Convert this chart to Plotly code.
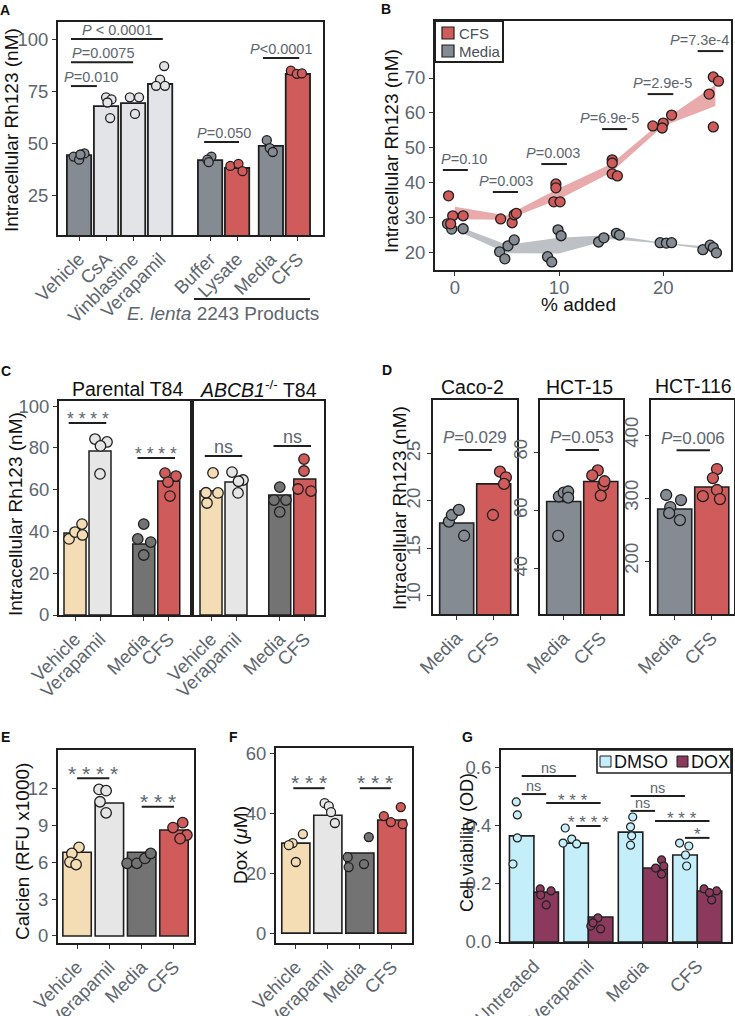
import plotly.graph_objects as go

W, H = 735, 1016
FONT = "Liberation Sans, Arial, Helvetica, sans-serif"
TXT = "#5d666d"
BLK = "#111111"
EDGE = "#1f1f1f"

RED = "#cf5b5b"
GRAYA = "#848b93"
LIGHTA = "#e3e4e7"
TAN = "#f4ddb4"
LGRAY = "#e6e6e6"
DGRAY = "#737373"
DMSO_C = "#c3eefa"
DOX_C = "#8b3a5d"
RIB_RED = "#e8aaaa"
RIB_GRAY = "#bdc1c5"

# ======================= DATA =======================
# ---- A ----
A_cats = ["Vehicle", "CsA", "Vinblastine", "Verapamil", "Buffer", "Lysate", "Media", "CFS"]
A_mean = [44.2, 67.8, 69.2, 78.4, 41.8, 38.0, 48.6, 83.2]
A_pts = [[43.5, 42.0, 45.0, 44.5], [72.0, 71.0, 69.5, 62.0], [72.0, 72.0, 64.0],
         [87.0, 80.5, 77.5, 77.5], [43.5, 42.0, 40.8], [39.0, 40.0, 36.5],
         [51.4, 47.6, 45.7], [84.8, 83.3, 83.5]]
A_jit = [[-0.2, 0.0, 0.2, 0.05], [0.0, 0.2, 0.05, 0.15], [-0.12, 0.22, 0.07],
         [0.15, 0.0, -0.15, 0.18], [0.05, -0.1, -0.05], [-0.25, 0.05, 0.2],
         [-0.15, -0.04, 0.07], [-0.26, -0.04, 0.15]]
A_sig_x0 = [0.70, 0.70, 0.70, 5.63, 7.81]
A_sig_x1 = [1.66, 3.00, 4.10, 6.92, 9.15]
A_sig_y = [77.4, 88.9, 100.0, 50.5, 90.9]
A_sig_tx = [1.44, 1.92, 2.44, 6.37, 8.48]
A_sig_lab = ["<i>P</i>=0.010", "<i>P</i>=0.0075", "<i>P</i> &lt; 0.0001", "<i>P</i>=0.050", "<i>P</i>&lt;0.0001"]

# ---- B ----
B_cfs_x = [-0.6, -0.2, -0.4, 0.8, 4.4, 5.5, 5.7, 5.9, 9.7, 9.7, 9.5, 10.1,
           15.1, 15.1, 15.1, 15.6, 19.0, 20.0, 19.9, 20.8, 24.8, 25.3, 24.4, 24.8]
B_cfs_y = [36.3, 30.6, 28.3, 30.6, 29.7, 28.6, 30.9, 31.3, 39.7, 38.6, 34.6, 34.6,
           46.6, 45.7, 42.6, 42.0, 56.3, 57.1, 55.7, 59.4, 70.3, 69.1, 65.4, 56.0]
B_med_x = [-0.7, -0.3, 0.8, 4.3, 4.8, 5.1, 5.7, 8.9, 9.3, 9.9, 10.2,
           13.8, 14.3, 15.5, 15.8, 19.7, 20.3, 20.8, 23.8, 24.5, 24.8, 25.1]
B_med_y = [28.3, 26.8, 26.9, 20.3, 18.3, 22.0, 23.7, 18.9, 17.4, 26.6, 24.9,
           23.1, 24.3, 25.6, 25.1, 22.9, 22.8, 22.9, 20.9, 22.2, 21.5, 20.0]
B_conc = [0, 5, 10, 15, 20, 25]
B_cfs_lo = [29.6, 29.5, 35.3, 43.0, 56.3, 62.0]
B_cfs_hi = [33.2, 30.7, 38.5, 45.4, 57.9, 68.0]
B_med_lo = [26.6, 19.9, 19.8, 23.9, 22.7, 20.7]
B_med_hi = [28.0, 22.3, 24.3, 25.1, 22.9, 21.6]
B_sig_x0 = [-1.15, 3.65, 8.30, 14.13, 18.50, 23.30]
B_sig_x1 = [1.25, 6.06, 10.75, 16.54, 20.96, 25.77]
B_sig_y = [43.7, 37.4, 45.4, 55.4, 65.4, 77.7]
B_sig_tx = [0.87, 4.90, 9.42, 14.80, 19.90, 23.46]
B_sig_lab = ["<i>P</i>=0.10", "<i>P</i>=0.003", "<i>P</i>=0.003", "<i>P</i>=6.9e-5",
             "<i>P</i>=2.9e-5", "<i>P</i>=7.3e-4"]

# ---- C ----
C_cats = ["Vehicle", "Verapamil", "Media", "CFS"]
C_par_mean = [39.2, 78.5, 34.0, 64.1]
C_par_pts = [[36.4, 39.7, 38.3, 43.5], [84.2, 82.8, 80.9, 67.5],
             [43.5, 36.4, 34.9, 28.7], [67.9, 66.5, 63.6, 56.9]]
C_par_jit = [[-0.24, 0.0, 0.3, 0.28], [-0.2, 0.28, 0.02, 0.0],
             [0.0, -0.24, 0.28, 0.0], [-0.15, 0.29, -0.03, 0.05]]
C_ko_mean = [59.3, 63.6, 57.4, 65.1]
C_ko_pts = [[68.0, 58.4, 53.6, 58.5], [68.4, 64.6, 64.0, 58.4],
            [61.2, 55.0, 55.0, 49.3], [74.6, 68.9, 60.3, 59.3]]
C_ko_jit = [[0.08, 0.28, -0.16, -0.2], [-0.16, 0.28, 0.1, 0.08],
            [0.0, -0.23, 0.25, 0.0], [-0.03, -0.03, -0.27, 0.25]]
C_par_sig = [(0.75, 2.25, 91.9, "****"), (3.5, 5.0, 75.1, "****")]
C_ko_sig = [(0.75, 2.25, 76.1, "ns"), (3.5, 5.0, 80.9, "ns")]

# ---- D ----
D_cats = ["Media", "CFS"]
D_caco_mean = [17.66, 21.8]
D_caco_pts = [[17.8, 18.5, 19.05, 16.3], [23.1, 22.5, 21.8, 18.5]]
D_caco_jit = [[-0.21, -0.13, 0.06, 0.2], [0.17, 0.33, 0.28, -0.02]]
D_h15_mean = [63.1, 69.9]
D_h15_pts = [[64.8, 66.1, 66.5, 64.4, 51.3], [73.7, 72.0, 68.6, 65.1, 70.0]]
D_h15_jit = [[-0.13, 0.0, 0.12, 0.12, -0.15], [-0.08, -0.23, 0.07, 0.0, 0.1]]
D_h116_mean = [282.5, 317.5]
D_h116_pts = [[304.8, 285.7, 296.8, 276.0, 265.0], [346.0, 331.7, 312.7, 303.0, 298.4]]
D_h116_jit = [[-0.23, -0.12, 0.17, -0.15, 0.14], [0.14, 0.03, 0.14, -0.24, 0.22]]
D_sig_y = [25.4, 80.7, 376.0]
D_sig_lab = ["<i>P</i>=0.029", "<i>P</i>=0.053", "<i>P</i>=0.006"]

# ---- E ----
E_cats = ["Vehicle", "Verapamil", "Media", "CFS"]
E_mean = [6.8, 10.8, 6.8, 8.6]
E_pts = [[7.2, 6.7, 6.0, 5.8], [11.9, 11.8, 10.9, 10.0], [5.9, 5.9, 6.3, 6.7], [9.2, 8.8, 8.2, 7.9]]
E_jit = [[0.06, -0.16, -0.22, -0.03], [-0.32, -0.1, -0.29, -0.1],
         [-0.45, -0.15, 0.1, 0.28], [0.27, -0.03, 0.4, 0.19]]
E_sig = [(1.0, 2.0, 12.8, "****"), (3.0, 4.0, 10.5, "***")]

# ---- F ----
F_cats = ["Vehicle", "Verapamil", "Media", "CFS"]
F_mean = [30.0, 39.3, 26.7, 37.7]
F_pts = [[33.0, 30.0, 29.3, 23.7], [43.3, 42.3, 40.3, 36.7], [32.0, 25.3, 22.0, 23.0], [42.0, 39.0, 37.0, 36.3]]
F_jit = [[0.22, -0.1, -0.22, 0.0], [-0.1, 0.03, 0.1, 0.22],
         [0.28, -0.38, -0.35, 0.13], [0.28, -0.25, -0.03, 0.34]]
F_sig = [(0.92, 1.9, 48.3, "***"), (3.0, 3.97, 48.3, "***")]

# ---- G ----
G_cats = ["Untreated", "Verapamil", "Media", "CFS"]
G_dmso_mean = [0.366, 0.341, 0.379, 0.300]
G_dox_mean = [0.172, 0.086, 0.255, 0.176]
G_dmso_pts = [[0.483, 0.438, 0.359, 0.269], [0.393, 0.341, 0.355, 0.338],
              [0.431, 0.397, 0.366, 0.334], [0.341, 0.331, 0.300, 0.262]]
G_dmso_jit = [[-0.1, -0.08, -0.08, -0.16], [-0.2, -0.24, -0.08, 0.01],
              [0.04, 0.0, 0.02, 0.0], [-0.1, 0.07, 0.01, 0.03]]
G_dox_pts = [[0.183, 0.176, 0.162, 0.128], [0.083, 0.055, 0.045, 0.066],
             [0.283, 0.255, 0.262, 0.234], [0.183, 0.176, 0.145, 0.170]]
G_dox_jit = [[-0.11, 0.09, -0.1, 0.0], [-0.05, -0.18, 0.0, -0.14],
             [0.12, 0.01, 0.16, 0.12], [-0.1, 0.13, 0.04, 0.0]]
G_sig = [(0.775, 1.775, 0.572, "ns"), (0.775, 1.225, 0.510, "ns"),
         (1.225, 2.225, 0.479, "***"), (1.775, 2.225, 0.400, "****"),
         (2.775, 3.775, 0.503, "ns"), (2.775, 3.225, 0.452, "ns"),
         (3.225, 4.225, 0.417, "***"), (3.775, 4.225, 0.359, "*")]

# ======================= LAYOUT (pixel boxes) =======================
A_pos = [1, 2, 3, 4, 5.85, 6.85, 8.1, 9.1]
C_pos = [1, 2, 3.75, 4.75]
D_pos = [1, 2]
EF_pos = [1, 2, 3, 4]
G_pos = [1, 2, 3, 4]
G_off = 0.225

fig = go.Figure()
layout = dict(width=W, height=H, margin=dict(l=0, r=0, t=0, b=0), template="none",
              paper_bgcolor="white", plot_bgcolor="white", showlegend=False,
              font=dict(family=FONT, size=18, color=TXT))
shapes = []
anns = []
TICKFS = 18.5


def sfx(i):
    return "" if i == 1 else str(i)


def axes(i, box, xr, yr, xtv, xtt, ytv, ytt, xangle=-45, yangle=0, yticks=True, xstand=0):
    x0, x1, y0, y1 = box
    common = dict(showline=True, linewidth=2, linecolor=EDGE, mirror=True, showgrid=False,
                  zeroline=False, ticklen=4, tickwidth=1.2, tickcolor="#333",
                  automargin=False, tickfont=dict(size=TICKFS, color=TXT, family=FONT),
                  tickmode="array", fixedrange=True)
    layout["xaxis" + sfx(i)] = dict(domain=[x0 / W, x1 / W], range=xr, anchor="y" + sfx(i),
                                    tickvals=xtv, ticktext=xtt, tickangle=xangle,
                                    ticks="outside", ticklabelstandoff=xstand, **common)
    ya = dict(domain=[1 - y1 / H, 1 - y0 / H], range=yr, anchor="x" + sfx(i),
              tickangle=yangle, ticks="outside" if yticks else "", showticklabels=yticks, **common)
    if yticks:
        ya["tickvals"] = ytv
        ya["ticktext"] = ytt
    layout["yaxis" + sfx(i)] = ya


def bars_points(i, pos, means, pts, jit, colors, width=0.9, msize=9, blw=1.6):
    fig.add_trace(go.Bar(x=pos, y=means, width=width, xaxis="x" + sfx(i), yaxis="y" + sfx(i),
                         marker=dict(color=colors, line=dict(color=EDGE, width=blw))))
    for p, vals, js, c in zip(pos, pts, jit, colors):
        fig.add_trace(go.Scatter(x=[p + j for j in js], y=vals, mode="markers",
                                 xaxis="x" + sfx(i), yaxis="y" + sfx(i),
                                 marker=dict(size=msize, color=c, line=dict(color=EDGE, width=1.3))))


def sig(i, x0, x1, y, label, tx=None, size=14.5, dy=9):
    shapes.append(dict(type="line", xref="x" + sfx(i), yref="y" + sfx(i), x0=x0, x1=x1, y0=y, y1=y,
                       line=dict(color=EDGE, width=2)))
    anns.append(dict(text=label, x=(x0 + x1) / 2 if tx is None else tx, y=y,
                     xref="x" + sfx(i), yref="y" + sfx(i), showarrow=False,
                     yanchor="middle", xanchor="center", yshift=dy,
                     font=dict(family=FONT, size=size, color=TXT)))


def stars(s):
    return " ".join(s) if set(s) == {"*"} else s


def ptext(text, px, py, size, color=BLK, angle=0, xanchor="center", yanchor="middle"):
    anns.append(dict(text=text, x=px / W, y=1 - py / H, xref="paper", yref="paper", showarrow=False,
                     textangle=angle, xanchor=xanchor, yanchor=yanchor,
                     font=dict(family=FONT, size=size, color=color)))


def prect(x0, y0, x1, y1, fill=None, lw=1.2):
    shapes.append(dict(type="rect", xref="paper", yref="paper", x0=x0 / W, x1=x1 / W,
                       y0=1 - y1 / H, y1=1 - y0 / H, fillcolor=fill if fill else "rgba(0,0,0,0)",
                       line=dict(color=EDGE, width=lw)))


def pline(x0, y0, x1, y1, lw=2):
    shapes.append(dict(type="line", xref="paper", yref="paper", x0=x0 / W, x1=x1 / W,
                       y0=1 - y0 / H, y1=1 - y1 / H, line=dict(color=EDGE, width=lw)))


# ---------------- Panel A ----------------
A_colors = [GRAYA, LIGHTA, LIGHTA, LIGHTA, GRAYA, RED, GRAYA, RED]
axes(1, (58, 323, 22, 235), [0.22, 10.03], [5.8, 108.2], A_pos, A_cats,
     [25, 50, 75, 100], ["25", "50", "75", "100"])
bars_points(1, A_pos, A_mean, A_pts, A_jit, A_colors, width=0.9, msize=9, blw=1.8)
for x0, x1, y, tx, lab in zip(A_sig_x0, A_sig_x1, A_sig_y, A_sig_tx, A_sig_lab):
    sig(1, x0, x1, y, lab, tx=tx, size=14.5, dy=9)
pline(194, 299, 310, 299)
ptext("<i>E. lenta</i> 2243 Products", 223, 313, 19, color=TXT)
ptext("Intracellular Rh123 (nM)", 11, 130, 19, angle=-90)

# ---------------- Panel B ----------------
axes(2, (435, 731, 21, 270), [-1.9, 26.5], [15.1, 86.3], [0, 10, 20], ["0", "10", "20"],
     [20, 30, 40, 50, 60, 70], ["20", "30", "40", "50", "60", "70"], xangle=0, xstand=-4)
fig.add_trace(go.Scatter(x=B_conc + B_conc[::-1], y=B_cfs_hi + B_cfs_lo[::-1], fill="toself",
                         fillcolor=RIB_RED, line=dict(width=0), mode="lines", xaxis="x2", yaxis="y2"))
fig.add_trace(go.Scatter(x=B_conc + B_conc[::-1], y=B_med_hi + B_med_lo[::-1], fill="toself",
                         fillcolor=RIB_GRAY, line=dict(width=0), mode="lines", xaxis="x2", yaxis="y2"))
fig.add_trace(go.Scatter(x=B_med_x, y=B_med_y, mode="markers", xaxis="x2", yaxis="y2",
                         marker=dict(size=10, color=GRAYA, line=dict(color=EDGE, width=1.3))))
fig.add_trace(go.Scatter(x=B_cfs_x, y=B_cfs_y, mode="markers", xaxis="x2", yaxis="y2",
                         marker=dict(size=10, color=RED, line=dict(color=EDGE, width=1.3))))
for x0, x1, y, tx, lab in zip(B_sig_x0, B_sig_x1, B_sig_y, B_sig_tx, B_sig_lab):
    sig(2, x0, x1, y, lab, tx=tx, size=14.5, dy=11)
prect(435, 21, 503, 62, fill="white", lw=2)
prect(442, 27, 454, 39, fill=RED, lw=1.2)
prect(442, 45, 454, 57, fill=GRAYA, lw=1.2)
ptext("CFS", 457, 33.5, 15, color="#4a5056", xanchor="left")
ptext("Media", 457, 51.5, 15, color="#4a5056", xanchor="left")
ptext("Intracellular Rh123 (nM)", 392, 151, 19, angle=-90)
ptext("% added", 578, 304, 19)

# ---------------- Panel C ----------------
C_colors = [TAN, LGRAY, DGRAY, RED]
axes(3, (59, 192, 401, 615), [0.36, 5.68], [0, 102.4], C_pos, C_cats,
     [0, 20, 40, 60, 80, 100], ["0", "20", "40", "60", "80", "100"])
axes(4, (192, 324, 401, 615), [0.24, 5.52], [0, 102.4], C_pos, C_cats, [], [], yticks=False)
bars_points(3, C_pos, C_par_mean, C_par_pts, C_par_jit, C_colors, width=0.88, msize=10.5, blw=1.5)
bars_points(4, C_pos, C_ko_mean, C_ko_pts, C_ko_jit, C_colors, width=0.88, msize=10.5, blw=1.5)
for x0, x1, y, lab in C_par_sig:
    sig(3, x0, x1, y, stars(lab), size=17.5, dy=4)
for x0, x1, y, lab in C_ko_sig:
    sig(4, x0, x1, y, lab, size=18, dy=9)
ptext("Parental T84", 128, 389, 19.5)
ptext("<i>ABCB1</i><sup>-/-</sup> T84", 258, 389, 19.5)
ptext("Intracellular Rh123 (nM)", 15, 514, 19, angle=-90)

# ---------------- Panel D ----------------
D_colors = [GRAYA, RED]
axes(5, (433, 517, 400, 614), [0.36, 2.63], [8.0, 30.7], D_pos, D_cats,
     [10, 15, 20, 25], ["10", "15", "20", "25"], yangle=-90)
axes(6, (540, 623, 400, 614), [0.36, 2.6], [24.6, 97.8], D_pos, D_cats,
     [40, 60, 80], ["40", "60", "80"], yangle=-90)
axes(7, (651, 734, 400, 614), [0.36, 2.6], [115.9, 455.6], D_pos, D_cats,
     [200, 300, 400], ["200", "300", "400"], yangle=-90)
bars_points(5, D_pos, D_caco_mean, D_caco_pts, D_caco_jit, D_colors, width=0.92, msize=11, blw=1.6)
bars_points(6, D_pos, D_h15_mean, D_h15_pts, D_h15_jit, D_colors, width=0.92, msize=11, blw=1.6)
bars_points(7, D_pos, D_h116_mean, D_h116_pts, D_h116_jit, D_colors, width=0.92, msize=11, blw=1.6)
for i, y, lab in zip([5, 6, 7], D_sig_y, D_sig_lab):
    sig(i, 1.05, 1.95, y, lab, tx=1.5, size=17, dy=12)
ptext("Caco-2", 472, 387, 19.5)
ptext("HCT-15", 579, 387, 19.5)
ptext("HCT-116", 693, 386, 19.5)
ptext("Intracellular Rh123 (nM)", 399, 508, 19, angle=-90)

# ---------------- Panel E ----------------
EF_colors = [TAN, LGRAY, DGRAY, RED]
axes(8, (58, 194, 750, 943), [0.41, 4.62], [-0.57, 15.1], EF_pos, E_cats,
     [0, 3, 6, 9, 12], ["0", "3", "6", "9", "12"])
bars_points(8, EF_pos, E_mean, E_pts, E_jit, EF_colors, width=0.88, msize=10.5, blw=1.6)
for x0, x1, y, lab in E_sig:
    sig(8, x0, x1, y, stars(lab), size=21, dy=5)
ptext("Calcien (RFU x1000)", 22, 852, 19, angle=-90)

# ---------------- Panel F ----------------
axes(9, (276, 412, 748, 943), [0.38, 4.63], [-3.3, 61.7], EF_pos, F_cats,
     [0, 20, 40, 60], ["0", "20", "40", "60"])
bars_points(9, EF_pos, F_mean, F_pts, F_jit, EF_colors, width=0.88, msize=9, blw=1.6)
for x0, x1, y, lab in F_sig:
    sig(9, x0, x1, y, stars(lab), size=21, dy=6)
ptext("Dox (<i>μ</i>M)", 240, 845, 19, angle=-90)

# ---------------- Panel G ----------------
axes(10, (501, 731, 750, 942), [0.395, 4.62], [0, 0.662], G_pos, G_cats,
     [0, 0.2, 0.4, 0.6], ["0.0", "0.2", "0.4", "0.6"])
gx_dmso = [p - G_off for p in G_pos]
gx_dox = [p + G_off for p in G_pos]
fig.add_trace(go.Bar(x=gx_dmso, y=G_dmso_mean, width=0.45, xaxis="x10", yaxis="y10",
                     marker=dict(color=DMSO_C, line=dict(color=EDGE, width=1.6))))
fig.add_trace(go.Bar(x=gx_dox, y=G_dox_mean, width=0.45, xaxis="x10", yaxis="y10",
                     marker=dict(color=DOX_C, line=dict(color=EDGE, width=1.6))))
for xs, pts, jit, c in [(gx_dmso, G_dmso_pts, G_dmso_jit, DMSO_C), (gx_dox, G_dox_pts, G_dox_jit, DOX_C)]:
    for p, vals, js in zip(xs, pts, jit):
        fig.add_trace(go.Scatter(x=[p + j for j in js], y=vals, mode="markers", xaxis="x10", yaxis="y10",
                                 marker=dict(size=8, color=c, line=dict(color=EDGE, width=1.2))))
for x0, x1, y, lab in G_sig:
    if lab == "ns":
        sig(10, x0, x1, y, lab, size=14.5, dy=8)
    else:
        sig(10, x0, x1, y, stars(lab), size=17, dy=3)
prect(597, 750, 731, 773, fill="white", lw=1.6)
prect(600, 756, 611, 767, fill=DMSO_C, lw=1.0)
prect(677, 756, 688, 767, fill=DOX_C, lw=1.0)
ptext("DMSO", 612, 762, 18, xanchor="left")
ptext("DOX", 689, 762, 18, xanchor="left")
ptext("Cell viability (OD)", 467, 843, 18, angle=-90)

# ---------------- Panel letters ----------------
for letter, px, py in [("A", 5, 10), ("B", 386, 9), ("C", 6, 371), ("D", 387, 370),
                       ("E", 5, 737), ("F", 233, 737), ("G", 467, 737)]:
    anns.append(dict(text="<b>%s</b>" % letter, x=px / W, y=1 - py / H, xref="paper", yref="paper",
                     showarrow=False, xanchor="center", yanchor="middle",
                     font=dict(family=FONT, size=14, color=BLK)))

layout["shapes"] = shapes
layout["annotations"] = anns
fig.update_layout(**layout)
fig.write_html("out.html", config={"displayModeBar": False},
               post_script="document.body.style.margin='0';document.body.style.overflow='hidden';")
